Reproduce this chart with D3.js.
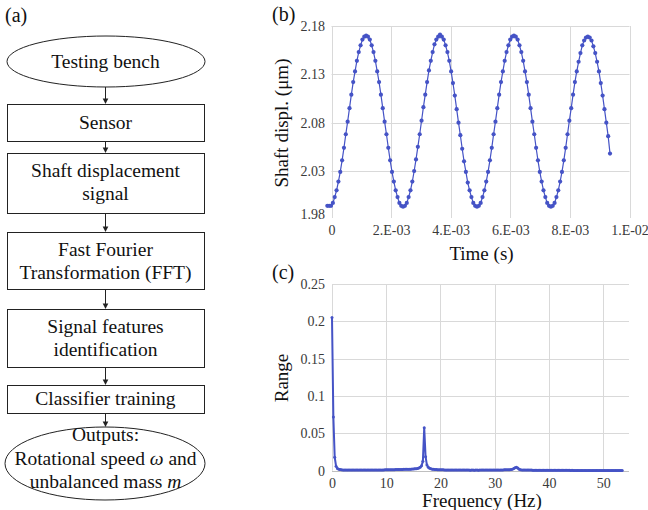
<!DOCTYPE html>
<html>
<head>
<meta charset="utf-8">
<script src="https://cdn.jsdelivr.net/npm/d3@7"></script>
<style>
  body { margin: 0; background: #fff; }
</style>
</head>
<body>
<script>
// (a) flowchart labels, *x* = italic
const flowLabels = [
  ['Testing bench'],
  ['Sensor'],
  ['Shaft displacement', 'signal'],
  ['Fast Fourier', 'Transformation (FFT)'],
  ['Signal features', 'identification'],
  ['Classifier training'],
  ['Outputs:', 'Rotational speed *ω* and', 'unbalanced mass *m*'],
]

// (b) shaft displacement, sampled every timeStep seconds from timeStart
const timeStart = -0.00014
const timeStep = 0.000062
const displacement = [
  1.994, 1.994, 1.994, 1.997, 2.003, 2.010, 2.019, 2.029, 2.041, 2.054, 2.068, 2.081, 2.095, 2.109, 2.122, 2.133, 2.144, 2.153, 2.160, 2.166, 2.169,
  2.170, 2.169, 2.166, 2.160, 2.153, 2.144, 2.133, 2.122, 2.109, 2.095, 2.081, 2.068, 2.054, 2.041, 2.029, 2.019, 2.010, 2.003, 1.997, 1.994,
  1.993, 1.994, 1.997, 2.003, 2.010, 2.019, 2.030, 2.042, 2.055, 2.068, 2.082, 2.096, 2.109, 2.122, 2.134, 2.144, 2.153, 2.161, 2.166, 2.169,
  2.171, 2.169, 2.166, 2.160, 2.153, 2.144, 2.133, 2.121, 2.108, 2.094, 2.080, 2.067, 2.053, 2.040, 2.029, 2.018, 2.010, 2.003, 1.997, 1.994,
  1.993, 1.994, 1.997, 2.003, 2.010, 2.019, 2.029, 2.041, 2.054, 2.068, 2.081, 2.095, 2.109, 2.122, 2.133, 2.144, 2.153, 2.160, 2.166, 2.169,
  2.170, 2.169, 2.166, 2.160, 2.153, 2.144, 2.133, 2.122, 2.109, 2.095, 2.081, 2.068, 2.054, 2.041, 2.029, 2.019, 2.010, 2.003, 1.997, 1.994,
  1.993, 1.994, 1.997, 2.003, 2.010, 2.019, 2.029, 2.041, 2.054, 2.068, 2.082, 2.095, 2.109, 2.122, 2.133, 2.143, 2.152, 2.160, 2.165, 2.168,
  2.169, 2.168, 2.165, 2.159, 2.152, 2.143, 2.133, 2.121, 2.108, 2.094, 2.080, 2.066, 2.048,
]
const timeTicks = [0, 0.002, 0.004, 0.006, 0.008, 0.01]
const timeTickLabels = ['0', '2.E-03', '4.E-03', '6.E-03', '8.E-03', '1.E-02']
const displMin = 1.9855
const displTicks = [1.9855, 2.03, 2.08, 2.13, 2.18]
const displTickLabels = ['1.98', '2.03', '2.08', '2.13', '2.18']

// (c) spectrum, one value every freqStep Hz from 0
const freqStep = 0.25
const spectrum = [
  0.205, 0.072, 0.018, 0.006, 0.003, 0.002, 0.0015, 0.0012, 0.0011, 0.001,
  0.001, 0.0009, 0.001, 0.0009, 0.0009, 0.001, 0.0009, 0.0008, 0.0009, 0.0009,
  0.0008, 0.0009, 0.0009, 0.0008, 0.0009, 0.0009, 0.0008, 0.0009, 0.001, 0.0009,
  0.0009, 0.001, 0.001, 0.0009, 0.001, 0.001, 0.0011, 0.001, 0.0011, 0.0012,
  0.0014, 0.0012, 0.0012, 0.0013, 0.0014, 0.0013, 0.0014, 0.0015, 0.0016, 0.0015,
  0.0016, 0.0017, 0.0017, 0.0018, 0.0018, 0.0019, 0.002, 0.002, 0.0021, 0.0022,
  0.0023, 0.0025, 0.0027, 0.003, 0.0035, 0.0045, 0.0065, 0.0125, 0.0576, 0.0188,
  0.0075, 0.0045, 0.0032, 0.0025, 0.002, 0.0018, 0.0016, 0.0015, 0.0014, 0.0013,
  0.0013, 0.0012, 0.0012, 0.0011, 0.0011, 0.001, 0.001, 0.001, 0.0009, 0.0009,
  0.0009, 0.0009, 0.0008, 0.0009, 0.0008, 0.0008, 0.0008, 0.0008, 0.0008, 0.0008,
  0.0008, 0.0008, 0.0007, 0.0008, 0.0008, 0.0007, 0.0008, 0.0008, 0.0007, 0.0008,
  0.0008, 0.0008, 0.0008, 0.0009, 0.0008, 0.0008, 0.0009, 0.0009, 0.0009, 0.0009,
  0.0009, 0.001, 0.001, 0.001, 0.0011, 0.0011, 0.0011, 0.0012, 0.0012, 0.0013,
  0.0013, 0.0014, 0.0016, 0.002, 0.0028, 0.0041, 0.0045, 0.0035, 0.0021, 0.0014,
  0.0011, 0.001, 0.0009, 0.0009, 0.0008, 0.0008, 0.0008, 0.0008, 0.0007, 0.0007,
  0.0007, 0.0007, 0.0007, 0.0007, 0.0006, 0.0007, 0.0006, 0.0006, 0.0006, 0.0006,
  0.0006, 0.0006, 0.0006, 0.0005, 0.0006, 0.0005, 0.0005, 0.0005, 0.0005, 0.0005,
  0.0005, 0.0005, 0.0005, 0.0005, 0.0005, 0.0005, 0.0004, 0.0005, 0.0004, 0.0004,
  0.0004, 0.0004, 0.0004, 0.0004, 0.0004, 0.0004, 0.0004, 0.0004, 0.0004, 0.0004,
  0.0004, 0.0004, 0.0004, 0.0003, 0.0004, 0.0003, 0.0003, 0.0003, 0.0003, 0.0003,
  0.0003, 0.0003, 0.0003, 0.0003, 0.0003, 0.0003, 0.0003, 0.0003, 0.0003, 0.0003,
  0.0003, 0.0003, 0.0003, 0.0003, 0.0003,
]
const freqTicks = [0, 10, 20, 30, 40, 50]
const rangeTicks = [0, 0.05, 0.1, 0.15, 0.2, 0.25]
const rangeTickLabels = ['0', '0.05', '0.1', '0.15', '0.2', '0.25']

const BLUE = '#4553c6'
const GRID = '#d9d9d9'
const TICK_COLOR = '#3a3a3a'
const SERIF = "'Liberation Serif', 'Times New Roman', serif"

const svg = d3.select('body').append('svg')
  .attr('width', 648)
  .attr('height', 510)
  .style('font-family', SERIF)

// small helper so every label gets the serif face
function label(g, x, y, size, str) {
  return g.append('text')
    .attr('x', x)
    .attr('y', y)
    .style('font-family', SERIF)
    .style('font-size', size + 'px')
    .style('fill', '#111')
    .text(str)
}

// ---------- (a) flowchart ----------
const flowLayout = [
  { shape: 'ellipse', x0: 7, x1: 205, top: 36, bottom: 87, baselines: [68] },
  { shape: 'rect', x0: 7, x1: 204, top: 104, bottom: 141, baselines: [129] },
  { shape: 'rect', x0: 7, x1: 204, top: 153, bottom: 213, baselines: [177, 200] },
  { shape: 'rect', x0: 7, x1: 204, top: 232, bottom: 289, baselines: [256, 279] },
  { shape: 'rect', x0: 7, x1: 204, top: 309, bottom: 367, baselines: [333, 356] },
  { shape: 'rect', x0: 7, x1: 204, top: 385, bottom: 413, baselines: [405] },
  { shape: 'ellipse', x0: 5, x1: 205, top: 427, bottom: 500, baselines: [441, 465, 488] },
]
const flowX = 105.5

const fa = svg.append('g')

label(fa, 5, 22, 20, '(a)')

flowLayout.forEach((node, i) => {
  if (node.shape === 'rect') {
    fa.append('rect')
      .attr('x', node.x0 + 0.5)
      .attr('y', node.top + 0.5)
      .attr('width', node.x1 - node.x0)
      .attr('height', node.bottom - node.top)
      .attr('fill', 'none')
      .attr('stroke', '#222')
      .attr('stroke-width', 1)
  } else {
    fa.append('ellipse')
      .attr('cx', (node.x0 + node.x1) / 2)
      .attr('cy', (node.top + node.bottom) / 2)
      .attr('rx', (node.x1 - node.x0) / 2)
      .attr('ry', (node.bottom - node.top) / 2)
      .attr('fill', 'none')
      .attr('stroke', '#222')
      .attr('stroke-width', 1)
  }

  flowLabels[i].forEach((line, j) => {
    const t = label(fa, flowX, node.baselines[j], 19.5, null)
      .attr('text-anchor', 'middle')
    line.split('*').forEach((part, k) => {
      if (part === '') return
      t.append('tspan')
        .style('font-style', k % 2 === 1 ? 'italic' : 'normal')
        .text(part)
    })
  })

  // arrow to next node
  if (i < flowLayout.length - 1) {
    const y1 = node.bottom
    const y2 = flowLayout[i + 1].top
    fa.append('line')
      .attr('x1', flowX)
      .attr('x2', flowX)
      .attr('y1', y1)
      .attr('y2', y2 - 4)
      .attr('stroke', '#222')
    fa.append('path')
      .attr('d', `M${flowX - 2.8},${y2 - 5.5}L${flowX + 2.8},${y2 - 5.5}L${flowX},${y2}Z`)
      .attr('fill', '#222')
  }
})

// ---------- (b) shaft displacement ----------
const xB = d3.scaleLinear().domain([0, 0.01]).range([331.5, 629.5])
const yB = d3.scaleLinear().domain([displMin, 2.18]).range([214, 26])

const gb = svg.append('g')

gb.selectAll('.vgrid')
  .data(timeTicks)
  .join('line')
  .attr('class', 'vgrid')
  .attr('x1', d => Math.round(xB(d)) + 0.5)
  .attr('x2', d => Math.round(xB(d)) + 0.5)
  .attr('y1', 26)
  .attr('y2', 218)
  .attr('stroke', GRID)

gb.selectAll('.hgrid')
  .data(displTicks.slice(1))
  .join('line')
  .attr('class', 'hgrid')
  .attr('x1', xB(0))
  .attr('x2', xB(0.01))
  .attr('y1', d => Math.round(yB(d)) + 0.5)
  .attr('y2', d => Math.round(yB(d)) + 0.5)
  .attr('stroke', GRID)

const lineB = d3.line()
  .x((d, i) => xB(timeStart + i * timeStep))
  .y(d => yB(d))

gb.append('path')
  .datum(displacement)
  .attr('d', lineB)
  .attr('fill', 'none')
  .attr('stroke', BLUE)
  .attr('stroke-width', 1.2)

gb.selectAll('.pt')
  .data(displacement)
  .join('circle')
  .attr('class', 'pt')
  .attr('cx', (d, i) => xB(timeStart + i * timeStep))
  .attr('cy', d => yB(d))
  .attr('r', 2.1)
  .attr('fill', BLUE)

const axBx = gb.append('g')
  .attr('transform', 'translate(0,221)')
  .call(d3.axisBottom(xB).tickValues(timeTicks).tickSize(0).tickPadding(4)
    .tickFormat((d, i) => timeTickLabels[i]))
const axBy = gb.append('g')
  .attr('transform', `translate(${xB(0)},0)`)
  .call(d3.axisLeft(yB).tickValues(displTicks).tickSize(0).tickPadding(6.5)
    .tickFormat((d, i) => displTickLabels[i]))

;[axBx, axBy].forEach(ax => {
  ax.attr('font-family', null)
  ax.select('.domain').remove()
  ax.selectAll('text')
    .style('font-family', SERIF)
    .style('font-size', '14px')
    .style('fill', TICK_COLOR)
})

label(gb, 272, 21, 20, '(b)')

label(gb, 481.5, 260, 19, 'Time (s)')
  .attr('text-anchor', 'middle')

label(gb, 0, 0, 19, 'Shaft displ. (μm)')
  .attr('transform', 'translate(288,123) rotate(-90)')
  .attr('text-anchor', 'middle')

// ---------- (c) spectrum ----------
const xC = d3.scaleLinear().domain([0, 54.75]).range([332, 629])
const yC = d3.scaleLinear().domain([0, 0.25]).range([470.7, 284])

const gc = svg.append('g')

gc.selectAll('.vgrid')
  .data(freqTicks)
  .join('line')
  .attr('class', 'vgrid')
  .attr('x1', d => Math.round(xC(d)) + 0.5)
  .attr('x2', d => Math.round(xC(d)) + 0.5)
  .attr('y1', yC(0.25))
  .attr('y2', yC(0))
  .attr('stroke', GRID)

gc.selectAll('.hgrid')
  .data(rangeTicks)
  .join('line')
  .attr('class', 'hgrid')
  .attr('x1', xC(0))
  .attr('x2', 629)
  .attr('y1', d => Math.round(yC(d)) + 0.5)
  .attr('y2', d => Math.round(yC(d)) + 0.5)
  .attr('stroke', (d, i) => (i === 0 ? '#bfbfbf' : GRID))

const lineC = d3.line()
  .x((d, i) => xC(i * freqStep))
  .y(d => yC(d))

gc.append('path')
  .datum(spectrum)
  .attr('d', lineC)
  .attr('fill', 'none')
  .attr('stroke', BLUE)
  .attr('stroke-width', 2)
  .attr('stroke-linejoin', 'round')

gc.selectAll('.pt')
  .data(spectrum)
  .join('circle')
  .attr('class', 'pt')
  .attr('cx', (d, i) => xC(i * freqStep))
  .attr('cy', d => yC(d))
  .attr('r', 1.5)
  .attr('fill', BLUE)

const axCx = gc.append('g')
  .attr('transform', 'translate(0,474)')
  .call(d3.axisBottom(xC).tickValues(freqTicks).tickSize(0).tickPadding(4))
const axCy = gc.append('g')
  .attr('transform', `translate(${xC(0)},0)`)
  .call(d3.axisLeft(yC).tickValues(rangeTicks).tickSize(0).tickPadding(7)
    .tickFormat((d, i) => rangeTickLabels[i]))

;[axCx, axCy].forEach(ax => {
  ax.attr('font-family', null)
  ax.select('.domain').remove()
  ax.selectAll('text')
    .style('font-family', SERIF)
    .style('font-size', '14px')
    .style('fill', TICK_COLOR)
})

label(gc, 272, 279, 20, '(c)')

label(gc, 482, 507, 19, 'Frequency (Hz)')
  .attr('text-anchor', 'middle')

label(gc, 0, 0, 19, 'Range')
  .attr('transform', 'translate(288,378) rotate(-90)')
  .attr('text-anchor', 'middle')
</script>
</body>
</html>
